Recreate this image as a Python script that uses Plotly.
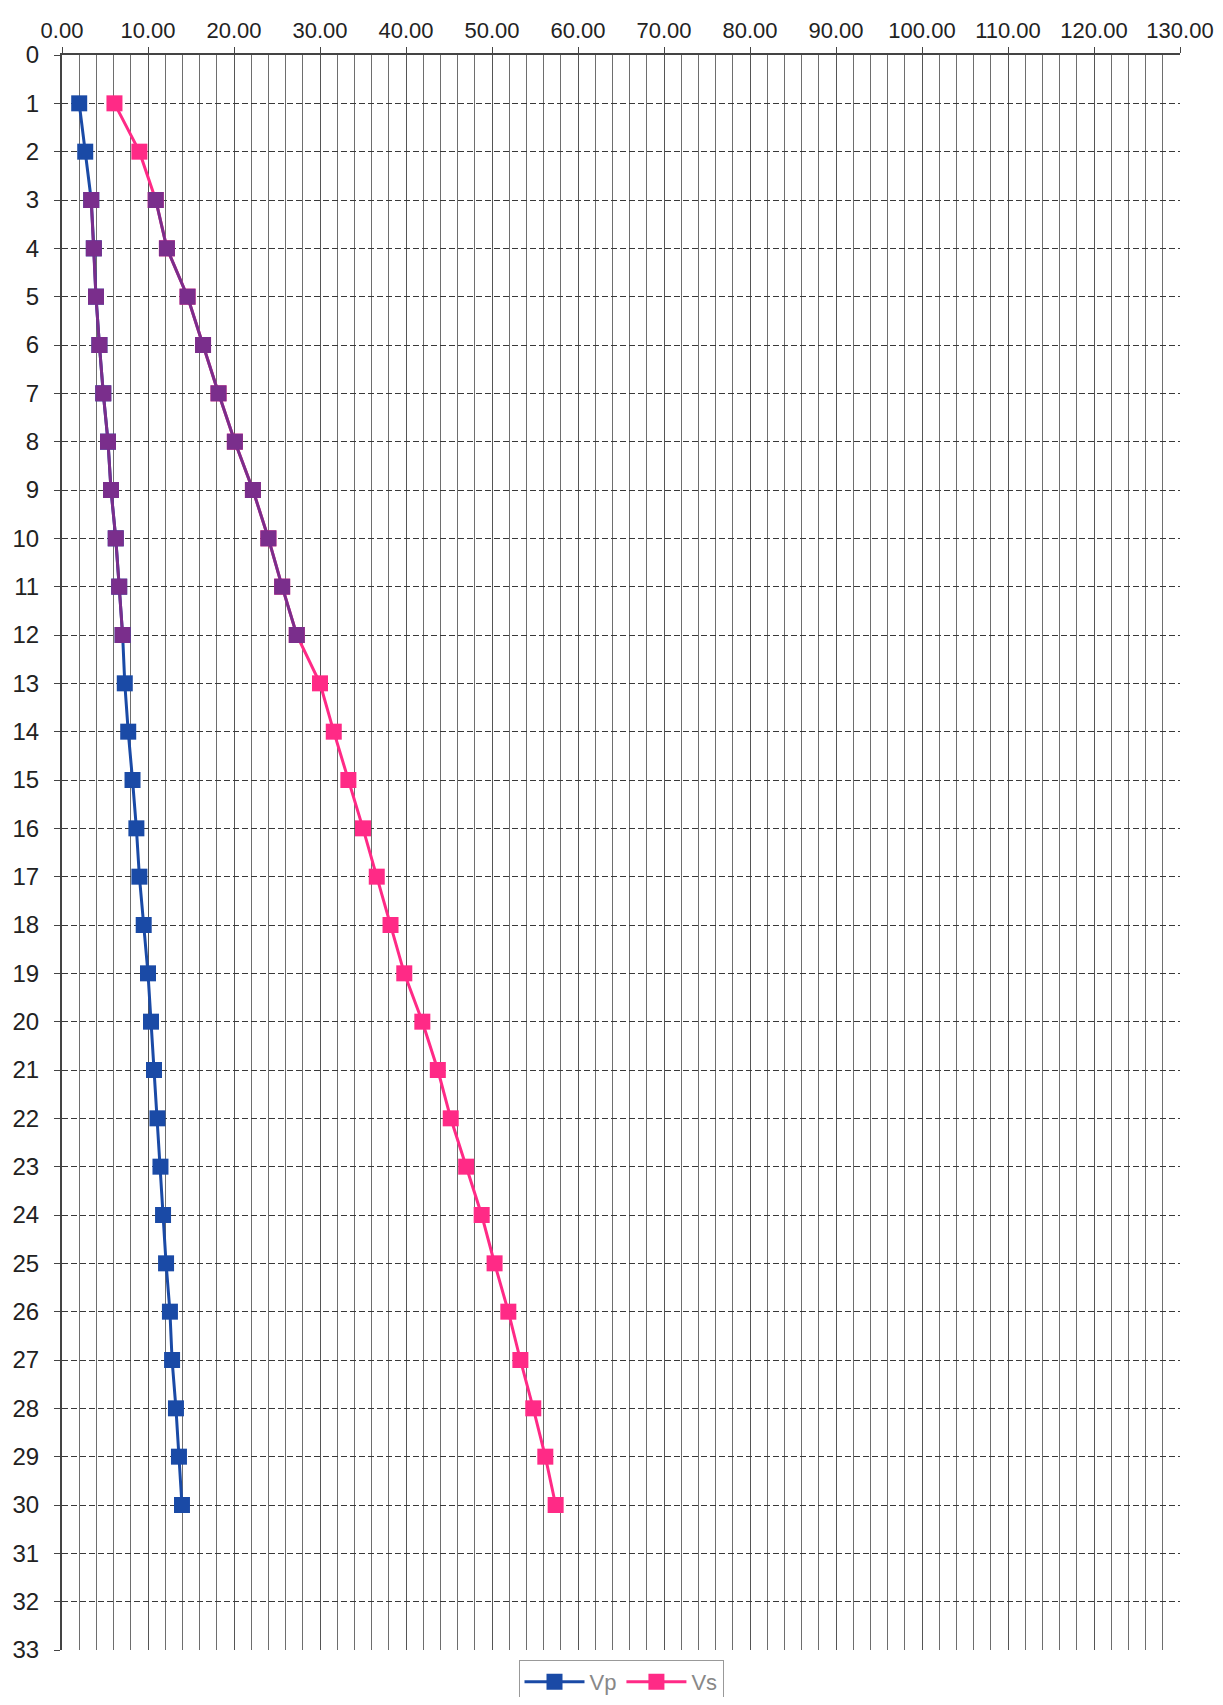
import plotly.graph_objects as go

depth = list(range(1, 31))
vp = [2.0, 2.7, 3.4, 3.7, 3.95, 4.35, 4.8, 5.35, 5.7, 6.25, 6.65, 7.05, 7.3, 7.7, 8.2,
      8.65, 9.0, 9.5, 10.0, 10.35, 10.7, 11.1, 11.45, 11.75, 12.1, 12.55, 12.8, 13.25, 13.6, 13.95]
vs = [6.1, 9.0, 10.9, 12.2, 14.6, 16.4, 18.2, 20.1, 22.2, 24.0, 25.6, 27.3, 30.0, 31.6, 33.3,
      35.0, 36.6, 38.2, 39.8, 41.9, 43.7, 45.2, 47.0, 48.8, 50.3, 51.9, 53.3, 54.8, 56.2, 57.4]
x_ticks = list(range(0, 131, 10))
y_ticks = list(range(0, 34))

BLUE = "#1a4aa6"
PINK = "#ff2a86"
PURPLE = "#7a2e8c"

# band of the scan where the marks appear purple (depths 3..12)
band = slice(2, 12)

fig = go.Figure()
fig.add_trace(go.Scatter(x=vp, y=depth, name="Vp", mode="lines+markers",
                         line=dict(color=BLUE, width=3),
                         marker=dict(symbol="square", size=16, color=BLUE)))
fig.add_trace(go.Scatter(x=vs, y=depth, name="Vs", mode="lines+markers",
                         line=dict(color=PINK, width=3),
                         marker=dict(symbol="square", size=16, color=PINK)))
for ser in (vp, vs):
    fig.add_trace(go.Scatter(x=ser[band], y=depth[band], mode="lines+markers",
                             showlegend=False, hoverinfo="skip",
                             line=dict(color=PURPLE, width=3),
                             marker=dict(symbol="square", size=16, color=PURPLE)))

fig.update_layout(
    width=1207, height=1689,
    margin=dict(l=54, r=35, t=47, b=47, autoexpand=False),
    paper_bgcolor="white", plot_bgcolor="white",
    font=dict(family="Liberation Sans, Arial, sans-serif", size=24, color="#222"),
    showlegend=True,
    legend=dict(orientation="h", x=0.5, xanchor="center",
                yref="container", y=0.022, yanchor="top",
                bordercolor="#999", borderwidth=1, bgcolor="white",
                itemwidth=60,
                font=dict(size=22, color="#888")),
)
fig.update_xaxes(
    side="top", range=[0, 130], tickvals=x_ticks, tickformat=".2f",
    tickfont=dict(size=22),
    showgrid=True, gridcolor="#555", gridwidth=1.3,
    minor=dict(dtick=2, showgrid=True, gridcolor="#6e6e6e", gridwidth=1.2),
    showline=True, linecolor="#444", linewidth=2,
    ticks="outside", ticklen=6, tickcolor="#444", zeroline=False,
    automargin=False, ticklabeloverflow="allow",
)
fig.update_yaxes(
    range=[33, 0], tickvals=y_ticks,
    showgrid=True, gridcolor="#3a3a3a", gridwidth=1.3, griddash="6px,3px",
    showline=True, linecolor="#444", linewidth=2,
    ticks="outside", ticklen=6, tickcolor="#444", zeroline=False,
    ticklabelstandoff=10, automargin=False, ticklabeloverflow="allow",
)

fig.write_html("out.html")
